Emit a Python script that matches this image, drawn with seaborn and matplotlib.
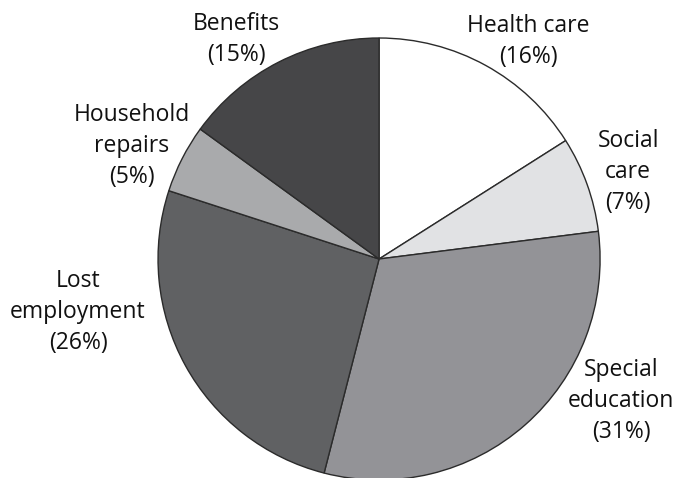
import matplotlib
matplotlib.use("Agg")
import matplotlib.pyplot as plt
import seaborn as sns

# cost categories, clockwise from 12 o'clock
categories = ["Health care", "Social care", "Special education",
              "Lost employment", "Household repairs", "Benefits"]
shares = [16, 7, 31, 26, 5, 15]
label_text = ["Health care", "Social\ncare", "Special\neducation",
              "Lost\nemployment", "Household\nrepairs", "Benefits"]

colors = ["#ffffff", "#e1e2e4", "#939397", "#606163", "#a9aaac", "#464648"]

sns.set_theme(style="white")
plt.rcParams["font.family"] = ["Open Sans", "DejaVu Sans"]

fig = plt.figure(figsize=(6.79, 4.78), dpi=100)
ax = fig.add_axes([0, 0, 1, 1])

wedges, _ = ax.pie(shares, colors=colors, startangle=90, counterclock=False,
                   radius=1.0,
                   wedgeprops={"edgecolor": "#2b2b2b", "linewidth": 1.0})

# label placement (in pie radius units)
label_pos = [(0.674, 0.986), (1.127, 0.394), (1.095, -0.643),
             (-1.362, -0.24), (-1.118, 0.511), (-0.647, 0.995)]
for txt, val, (x, y) in zip(label_text, shares, label_pos):
    ax.text(x, y, f"{txt}\n({val}%)", ha="center", va="center",
            fontsize=16.5, color="#111111", linespacing=1.38)

ax.set_xlim(-1.715, 1.357)
ax.set_ylim(-0.991, 1.172)
ax.set_aspect("auto")
ax.axis("off")

plt.savefig("out.png", dpi=100)
